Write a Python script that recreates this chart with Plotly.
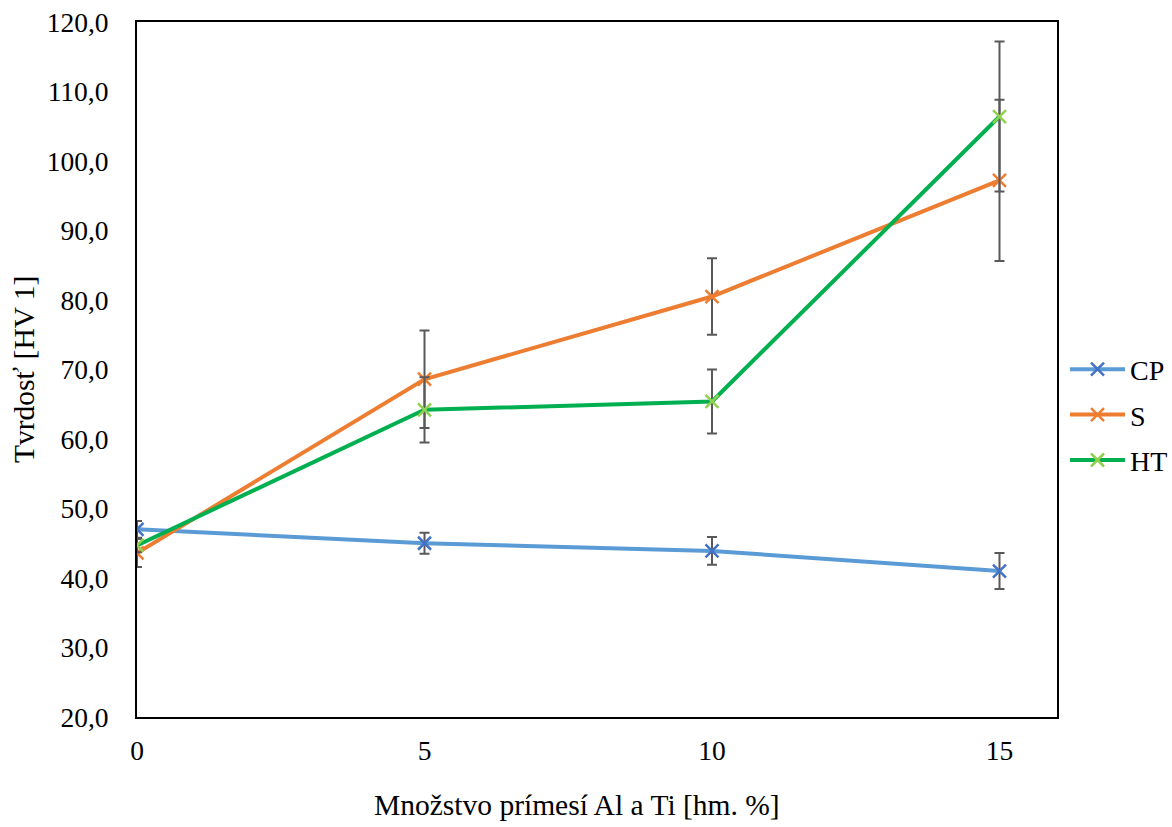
import plotly.graph_objects as go

# Additive content (Al + Ti) in wt. %
additive = [0, 5, 10, 15]

# Hardness HV 1 with standard deviations
cp_values = [47.0, 45.0, 43.9, 41.0]
cp_errors = [1.2, 1.5, 2.0, 2.6]

s_values = [43.6, 68.6, 80.5, 97.2]
s_errors = [2.0, 7.0, 5.5, 11.6]

ht_values = [44.7, 64.2, 65.4, 106.4]
ht_errors = [1.0, 4.7, 4.6, 10.8]

series = [
    ("CP", cp_values, cp_errors, "#5B9BD5", "#4472C4"),
    ("S", s_values, s_errors, "#ED7D31", "#ED7D31"),
    ("HT", ht_values, ht_errors, "#00B050", "#92D050"),
]

FONT = "Liberation Serif"

fig = go.Figure()
for name, vals, errs, line_col, mark_col in series:
    fig.add_trace(go.Scatter(
        x=additive, y=vals, name=name, mode="lines+markers",
        legendgroup=name,
        line=dict(color=line_col, width=4),
        marker=dict(symbol="x-thin", size=13,
                    line=dict(color=mark_col, width=2.5), color=mark_col),
        error_y=dict(type="data", array=errs, visible=True,
                     color="#595959", thickness=2, width=5),
    ))

L, R, T, B = 137, 115, 22, 110
W, H = 1172, 827
w_plot = W - L - R
h_plot = H - T - B

fig.update_layout(
    width=W, height=H,
    margin=dict(l=L, r=R, t=T, b=B, autoexpand=False),
    paper_bgcolor="white", plot_bgcolor="white",
    separators=", ",
    font=dict(family=FONT, size=27, color="black"),
    showlegend=True,
    legend=dict(xref="container", yref="container",
                x=(1073 - 8) / W, y=(H - 415) / H,
                xanchor="left", yanchor="middle",
                font=dict(family=FONT, size=28, color="black"),
                itemwidth=55, tracegroupgap=6, traceorder="grouped",
                bgcolor="rgba(0,0,0,0)"),
    xaxis=dict(range=[0, 16], tickvals=[0, 5, 10, 15],
               showgrid=False, zeroline=False,
               showline=True, linecolor="black", linewidth=2, mirror=True,
               ticks="", ticklabelstandoff=8,
               tickfont=dict(family=FONT, size=27.5)),
    yaxis=dict(range=[20, 120], dtick=10, tickformat=".1f",
               showgrid=False, zeroline=False,
               showline=True, linecolor="black", linewidth=2, mirror=True,
               ticks="", ticklabelstandoff=21,
               tickfont=dict(family=FONT, size=27.5)),
    annotations=[
        dict(text="Množstvo prímesí Al a Ti [hm. %]",
             x=(577 - L) / w_plot, y=-(805 - (H - B)) / h_plot,
             xanchor="center", yanchor="middle",
             xref="paper", yref="paper", showarrow=False,
             font=dict(family=FONT, size=29.5)),
        dict(text="Tvrdosť [HV 1]", textangle=-90,
             x=(24 - L) / w_plot, y=(H - B - 370) / h_plot,
             xanchor="center", yanchor="middle",
             xref="paper", yref="paper", showarrow=False,
             font=dict(family=FONT, size=29.5)),
    ],
)

fig.write_html("out.html")
